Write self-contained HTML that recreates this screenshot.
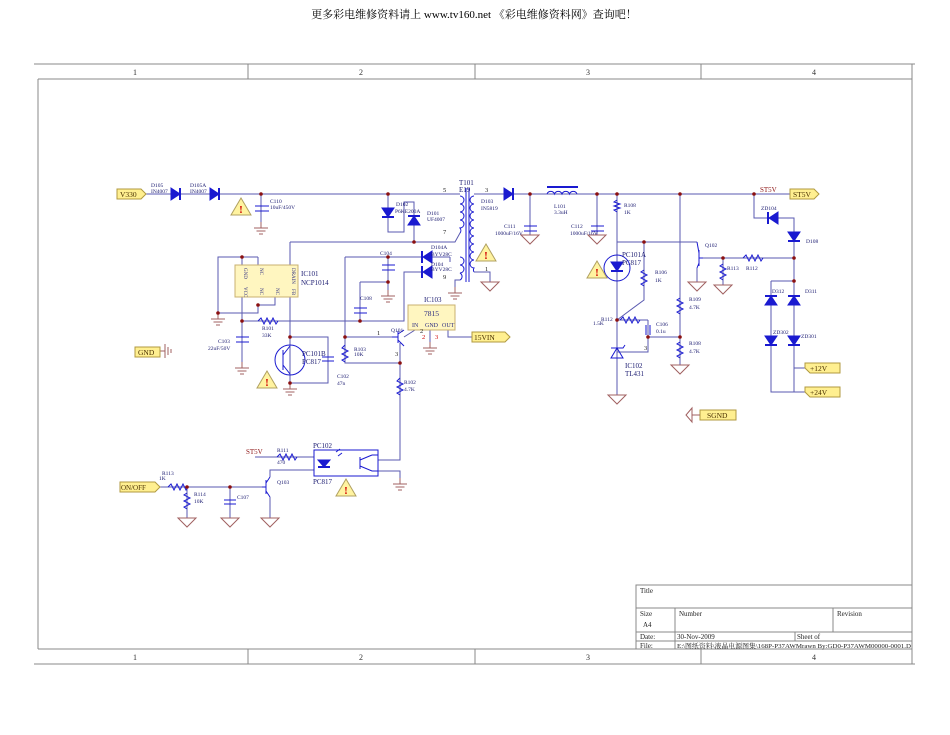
<!DOCTYPE html>
<html><head><meta charset="utf-8"><style>
html,body{margin:0;padding:0;background:#fff;width:950px;height:735px;overflow:hidden}
svg{display:block}
text{font-family:"Liberation Serif","Noto Serif CJK SC",serif}
</style></head><body>
<svg width="950" height="735" viewBox="0 0 950 735" xmlns="http://www.w3.org/2000/svg">
<defs>
<g id="gnd"><line x1="0" y1="0" x2="0" y2="6" stroke="#a06060"/><line x1="-7" y1="6" x2="7" y2="6" stroke="#a06060"/><line x1="-4.5" y1="9" x2="4.5" y2="9" stroke="#a06060"/><line x1="-2" y1="12" x2="2" y2="12" stroke="#a06060"/></g>
<g id="sg"><polygon points="-9,0 9,0 0,9" fill="none" stroke="#a06060"/></g>
<g id="warn"><polygon points="0,-9 10,8 -10,8" fill="#fff3a0" stroke="#b0a060"/><text x="0" y="6" font-size="11" fill="#d00000" text-anchor="middle" font-weight="bold">!</text></g>
</defs>
<text x="474" y="18" font-size="11" text-anchor="middle" fill="#000">更多彩电维修资料请上 www.tv160.net 《彩电维修资料网》查询吧！</text>
<!-- frame -->
<g stroke="#888" fill="none" stroke-width="1">
<line x1="34" y1="64" x2="915" y2="64"/><line x1="38" y1="79" x2="912" y2="79"/>
<line x1="38" y1="79" x2="38" y2="649"/><line x1="912" y1="64" x2="912" y2="664"/>
<line x1="38" y1="649" x2="912" y2="649"/><line x1="34" y1="664" x2="915" y2="664"/>
<line x1="248" y1="64" x2="248" y2="79"/><line x1="475" y1="64" x2="475" y2="79"/><line x1="701" y1="64" x2="701" y2="79"/>
<line x1="248" y1="649" x2="248" y2="664"/><line x1="475" y1="649" x2="475" y2="664"/><line x1="701" y1="649" x2="701" y2="664"/>
<rect x="636" y="585" width="276" height="64"/>
<line x1="636" y1="608" x2="912" y2="608"/><line x1="636" y1="632" x2="912" y2="632"/><line x1="636" y1="641" x2="912" y2="641"/>
<line x1="675" y1="608" x2="675" y2="649"/><line x1="833" y1="608" x2="833" y2="632"/><line x1="795" y1="632" x2="795" y2="641"/>
</g>
<g font-size="8" fill="#333" text-anchor="middle">
<text x="135" y="75">1</text><text x="361" y="75">2</text><text x="588" y="75">3</text><text x="814" y="75">4</text>
<text x="135" y="660">1</text><text x="361" y="660">2</text><text x="588" y="660">3</text><text x="814" y="660">4</text>
</g>
<g font-size="7" fill="#222">
<text x="640" y="593">Title</text><text x="640" y="616">Size</text><text x="643" y="627">A4</text><text x="679" y="616">Number</text><text x="837" y="616">Revision</text>
<text x="640" y="639">Date:</text><text x="677" y="639">30-Nov-2009</text><text x="797" y="639">Sheet    of</text>
<text x="640" y="648">File:</text><text x="677" y="648" font-size="6.5" textLength="234" lengthAdjust="spacingAndGlyphs">E:\图纸资料\液晶电源图集\168P-P37AWMrawn By:GD0-P37AWM00000-0001.D</text>
</g>
<!-- wires -->
<g stroke="#5a5ab0" fill="none" stroke-width="1">
<path d="M145 194 H460"/><path d="M474 194 H790"/>
<path d="M261 194 V222"/>
<path d="M388 194 V232 H404 V202 H414 V242"/>
<path d="M290 242 H455 L460 233"/>
<path d="M290 242 V266"/>
<path d="M242 266 V257 H218 V313 H258 V305 H275 V297"/><path d="M258 257 V266"/><path d="M242 257 H258"/>
<path d="M242 297 V362"/><path d="M242 321 H404 V272 H432"/>
<path d="M290 297 V383"/><path d="M290 337 H328 V383 H290"/>
<path d="M345 257 H432"/><path d="M345 257 V363 H400"/><path d="M345 337 H392"/>
<path d="M432 257 L450 257 M450 262 V257"/>
<path d="M388 257 V290"/><path d="M360 282 H388"/><path d="M360 282 V321"/>
<path d="M404 337 L415 330"/><path d="M400 343 V460 H378"/><path d="M378 471 H400 V478"/>
<path d="M448 330 V337 H472"/><path d="M430 330 V342"/>
<path d="M474 272 H490 V282"/><path d="M460 280 H455 V287"/>
<path d="M530 194 V235"/><path d="M597 194 V235"/>
<path d="M617 194 V395"/><path d="M617 242 H697"/><path d="M644 242 V300 L617 320"/>
<path d="M617 320 H648"/><path d="M648 320 V337 H680"/><path d="M617 352 H648 V337"/>
<path d="M680 194 V365"/>
<path d="M697 268 V282"/><path d="M703 258 H794"/><path d="M723 258 V285"/>
<path d="M754 194 V218 H794 V392"/><path d="M771 281 H794"/><path d="M771 281 V392 H805"/><path d="M794 368 H805"/>
<path d="M160 487 H262"/><path d="M187 487 V518"/><path d="M230 487 V518"/><path d="M270 497 V518"/><path d="M270 477 V470 H314"/>
<path d="M255 457 H314"/>
</g>
<g stroke="#a06060" fill="none"><path d="M165 344 V358 M168 347 V355 M171 349 V353 M160 351 H165"/></g>
<!-- components -->
<g fill="#1a1ad0" stroke="#1a1ad0">
<polygon points="171,188 171,200 180,194"/><line x1="180" y1="188" x2="180" y2="200" stroke-width="2"/>
<polygon points="210,188 210,200 219,194"/><line x1="219" y1="188" x2="219" y2="200" stroke-width="2"/>
<polygon points="504,188 504,200 513,194"/><line x1="513" y1="188" x2="513" y2="200" stroke-width="2"/>
<polygon points="382,208 394,208 388,217"/><line x1="382" y1="217" x2="394" y2="217" stroke-width="2"/>
<polygon points="408,225 420,225 414,216"/><line x1="408" y1="216" x2="420" y2="216" stroke-width="2"/>
<polygon points="432,251 432,263 423,257"/><line x1="422" y1="251" x2="422" y2="263" stroke-width="2"/>
<polygon points="432,266 432,278 423,272"/><line x1="422" y1="266" x2="422" y2="278" stroke-width="2"/>
<polygon points="778,212 778,224 769,218"/><line x1="768" y1="212" x2="768" y2="224" stroke-width="2"/>
<polygon points="788,232 800,232 794,241"/><line x1="788" y1="241" x2="800" y2="241" stroke-width="2"/>
<polygon points="765,305 777,305 771,296"/><line x1="765" y1="296" x2="777" y2="296" stroke-width="2"/>
<polygon points="788,305 800,305 794,296"/><line x1="788" y1="296" x2="800" y2="296" stroke-width="2"/>
<polygon points="765,336 777,336 771,345"/><line x1="765" y1="345" x2="777" y2="345" stroke-width="2"/>
<polygon points="788,336 800,336 794,345"/><line x1="788" y1="345" x2="800" y2="345" stroke-width="2"/>
<polygon points="611,262 623,262 617,271"/><line x1="611" y1="271" x2="623" y2="271" stroke-width="2"/>
<polygon points="611,358 623,358 617,348" fill="none"/><path d="M611 348 H623 L625 345" fill="none"/>
<polygon points="318,460 330,460 324,467"/><line x1="318" y1="467" x2="330" y2="467" stroke-width="2"/>
</g>
<g stroke="#1a1ad0" fill="none" stroke-width="1">
<path d="M255 206 H269 M255 211 H269"/><path d="M524 226 H537 M524 231 H537"/><path d="M591 226 H604 M591 231 H604"/>
<path d="M236 337 H249 M236 342 H249"/><path d="M382 265 H395 M382 270 H395"/><path d="M354 308 H367 M354 313 H367"/>
<path d="M322 357 H334 M322 361 H334"/><path d="M646 325 V335 M650 325 V335"/><path d="M224 500 H236 M224 504 H236"/>
<path d="M258 321 l3 -3 l3 6 l3 -6 l3 6 l3 -6 l3 6 l2 -3"/>
<path d="M345 345 l-3 3 l6 3 l-6 3 l6 3 l-6 3 l3 2"/>
<path d="M400 378 l-3 3 l6 3 l-6 3 l6 3 l-6 3 l3 2"/>
<path d="M617 200 l-3 2 l6 2 l-6 2 l6 2 l-6 2 l3 2"/>
<path d="M644 270 l-3 2 l6 3 l-6 3 l6 3 l-6 3 l3 2"/>
<path d="M680 298 l-3 2 l6 3 l-6 3 l6 3 l-6 3 l3 2"/>
<path d="M680 342 l-3 2 l6 3 l-6 3 l6 3 l-6 3 l3 2"/>
<path d="M723 264 l-3 2 l6 3 l-6 3 l6 3 l-6 3 l3 2"/>
<path d="M743 258 l3 -3 l3 6 l3 -6 l3 6 l3 -6 l3 6 l2 -3"/>
<path d="M620 320 l3 -3 l3 6 l3 -6 l3 6 l3 -6 l3 6 l2 -3"/>
<path d="M277 457 l3 -3 l3 6 l3 -6 l3 6 l3 -6 l3 6 l2 -3"/>
<path d="M168 487 l3 -3 l3 6 l3 -6 l3 6 l3 -6 l3 6 l2 -3"/>
<path d="M187 493 l-3 2 l6 3 l-6 3 l6 3 l-6 3 l3 2"/>
<path d="M547 194 a4 4 0 0 1 7.5 0 a4 4 0 0 1 7.5 0 a4 4 0 0 1 7.5 0 a4 4 0 0 1 7.5 0"/><line x1="547" y1="187" x2="578" y2="187" stroke-width="2"/>
<path d="M460 196 a4 4 0 0 1 0 8 a4 4 0 0 1 0 8 a4 4 0 0 1 0 8 a4 4 0 0 1 0 8 a4 4 0 0 1 0 5"/>
<path d="M460 257 a4 4 0 0 1 0 8 a4 4 0 0 1 0 8 a4 4 0 0 1 0 7"/>
<path d="M474 196 a4 4 0 0 0 0 8 a4 4 0 0 0 0 8 a4 4 0 0 0 0 8 a4 4 0 0 0 0 8 a4 4 0 0 0 0 8 a4 4 0 0 0 0 8 a4 4 0 0 0 0 8 a4 4 0 0 0 0 8 a4 4 0 0 0 0 8 a4 4 0 0 0 0 4"/>
<line x1="466" y1="188" x2="466" y2="282"/><line x1="469" y1="188" x2="469" y2="282"/>
<circle cx="290" cy="360" r="15"/><path d="M283 350 V370 M283 355 L290 346 M283 365 L290 374"/>
<path d="M392 337 H398 M398 331 V343 M398 334 L404 330 M398 340 L404 346"/>
<path d="M703 258 H699 M699 250 V266 M699 253 L697 242 M699 263 L697 268"/>
<path d="M262 487 H266 M266 480 V494 M266 483 L270 477 M266 491 L270 497"/>
<circle cx="617" cy="268" r="13"/>
<rect x="314" y="450" width="64" height="26"/><path d="M336 452 l4 -3 M338 456 l4 -3"/>
<path d="M360 457 V469 M360 460 L372 455 M360 466 L372 471 H378 M372 455 H378"/>
</g>
<rect x="235" y="265" width="63" height="32" fill="#fff6c0" stroke="#c8b070"/>
<rect x="408" y="305" width="47" height="25" fill="#fff6c0" stroke="#c8b070"/>
<g font-size="5" fill="#2a2a80">
<text transform="translate(244,268) rotate(90)">GND</text><text transform="translate(260,268) rotate(90)">NC</text><text transform="translate(292,268) rotate(90)">DRAIN</text>
<text transform="translate(244,287) rotate(90)">VCC</text><text transform="translate(260,288) rotate(90)">NC</text><text transform="translate(276,288) rotate(90)">NC</text><text transform="translate(292,289) rotate(90)">FB</text>
</g>
<g font-size="6" fill="#2a2a80">
<text x="412" y="327">IN</text><text x="425" y="327">GND</text><text x="442" y="327">OUT</text>
</g>
<text x="424" y="316" font-size="7.5" fill="#2a2a80">7815</text>
<g stroke="#b09a40" fill="#ffef90">
<polygon points="117,189 141,189 146,194 141,199 117,199"/>
<polygon points="790,189 814,189 819,194 814,199 790,199"/>
<polygon points="472,332 505,332 510,337 505,342 472,342"/>
<polygon points="135,347 160,347 160,357 135,357"/>
<polygon points="700,410 736,410 736,420 700,420"/>
<polygon points="805,363 840,363 840,373 810,373 805,368"/>
<polygon points="805,387 840,387 840,397 810,397 805,392"/>
<polygon points="120,482 155,482 160,487 155,492 120,492"/>
</g>
<path d="M700 415 H692 M692 408 L686 415 L692 422 Z" stroke="#a06060" fill="none"/>
<g font-size="7.5" fill="#4a3000">
<text x="120" y="197">V330</text><text x="793" y="197">ST5V</text><text x="474" y="340">15VIN</text>
<text x="138" y="355">GND</text><text x="707" y="418">SGND</text><text x="810" y="371">+12V</text><text x="810" y="395">+24V</text>
<text x="121" y="490" font-size="7">ON/OFF</text>
</g>
<g font-size="7" fill="#8b1010"><text x="760" y="192">ST5V</text><text x="246" y="454">ST5V</text></g>
<use href="#gnd" x="261" y="222"/><use href="#gnd" x="218" y="313"/><use href="#gnd" x="242" y="362"/><use href="#gnd" x="290" y="383"/>
<use href="#gnd" x="388" y="290"/><use href="#gnd" x="455" y="287"/><use href="#gnd" x="430" y="342"/><use href="#gnd" x="400" y="478"/>
<use href="#sg" x="490" y="282"/><use href="#sg" x="530" y="235"/><use href="#sg" x="597" y="235"/><use href="#sg" x="617" y="395"/>
<use href="#sg" x="680" y="365"/><use href="#sg" x="697" y="282"/><use href="#sg" x="723" y="285"/>
<use href="#sg" x="187" y="518"/><use href="#sg" x="230" y="518"/><use href="#sg" x="270" y="518"/>
<use href="#warn" x="241" y="207"/><use href="#warn" x="486" y="253"/><use href="#warn" x="267" y="380"/><use href="#warn" x="346" y="488"/><use href="#warn" x="597" y="270"/>
<g fill="#8b1010">
<circle cx="261" cy="194" r="1.8"/><circle cx="388" cy="194" r="1.8"/><circle cx="414" cy="242" r="1.8"/><circle cx="242" cy="257" r="1.8"/>
<circle cx="218" cy="313" r="1.8"/><circle cx="258" cy="305" r="1.8"/><circle cx="242" cy="321" r="1.8"/><circle cx="290" cy="337" r="1.8"/><circle cx="290" cy="383" r="1.8"/>
<circle cx="388" cy="257" r="1.8"/><circle cx="388" cy="282" r="1.8"/><circle cx="360" cy="321" r="1.8"/><circle cx="345" cy="337" r="1.8"/><circle cx="400" cy="363" r="1.8"/>
<circle cx="530" cy="194" r="1.8"/><circle cx="597" cy="194" r="1.8"/><circle cx="617" cy="194" r="1.8"/><circle cx="680" cy="194" r="1.8"/><circle cx="754" cy="194" r="1.8"/>
<circle cx="644" cy="242" r="1.8"/><circle cx="617" cy="320" r="1.8"/><circle cx="648" cy="337" r="1.8"/><circle cx="680" cy="337" r="1.8"/>
<circle cx="723" cy="258" r="1.8"/><circle cx="794" cy="258" r="1.8"/><circle cx="794" cy="281" r="1.8"/>
<circle cx="187" cy="487" r="1.8"/><circle cx="230" cy="487" r="1.8"/>
</g>
<g font-size="5.5" fill="#1a1a70">
<text x="151" y="187">D105</text><text x="151" y="193">IN4007</text><text x="190" y="187">D105A</text><text x="190" y="193">IN4007</text>
<text x="270" y="203">C110</text><text x="270" y="209">10uF/450V</text>
<text x="396" y="206">D102</text><text x="395" y="213">P6KE200A</text><text x="427" y="215">D101</text><text x="427" y="221">UF4007</text>
<text x="431" y="249">D104A</text><text x="431" y="256">BYV28C</text><text x="431" y="266">D104</text><text x="431" y="271">BYV28C</text>
<text x="481" y="203">D103</text><text x="481" y="210">IN5819</text>
<text x="504" y="228">C111</text><text x="495" y="235">1000uF/16V</text><text x="571" y="228">C112</text><text x="570" y="235">1000uF/16V</text>
<text x="554" y="208">L101</text><text x="554" y="214">3.3uH</text><text x="624" y="207">R108</text><text x="624" y="214">1K</text>
<text x="705" y="247">Q102</text><text x="655" y="274">R106</text><text x="655" y="282">1K</text><text x="727" y="270">R113</text><text x="746" y="270">R112</text>
<text x="689" y="301">R109</text><text x="689" y="309">4.7K</text><text x="689" y="345">R108</text><text x="689" y="353">4.7K</text>
<text x="601" y="321">R112</text><text x="593" y="325">1.5K</text><text x="656" y="326">C106</text><text x="656" y="333">0.1u</text>
<text x="761" y="210">ZD104</text><text x="806" y="243">D108</text><text x="772" y="293">D312</text><text x="805" y="293">D311</text><text x="773" y="334">ZD302</text><text x="801" y="338">ZD301</text>
<text x="380" y="255">C104</text><text x="360" y="300">C108</text><text x="262" y="330">R101</text><text x="262" y="337">33K</text>
<text x="218" y="343">C103</text><text x="208" y="350">22uF/50V</text><text x="337" y="378">C102</text><text x="337" y="385">47n</text>
<text x="354" y="351">R103</text><text x="354" y="356">10K</text><text x="404" y="384">R102</text><text x="404" y="391">4.7K</text>
<text x="391" y="332">Q101</text><text x="162" y="475">R113</text><text x="159" y="480">1K</text><text x="194" y="496">R114</text><text x="194" y="503">10K</text>
<text x="237" y="499">C107</text><text x="277" y="484">Q103</text><text x="277" y="452">R111</text><text x="277" y="464">470</text>
</g>
<g font-size="7" fill="#1a1a70">
<text x="301" y="276">IC101</text><text x="301" y="285">NCP1014</text><text x="424" y="302">IC103</text>
<text x="302" y="356">PC101B</text><text x="302" y="364">PC817</text><text x="622" y="257">PC101A</text><text x="622" y="265">PC817</text>
<text x="625" y="368">IC102</text><text x="625" y="376">TL431</text><text x="313" y="448">PC102</text><text x="313" y="484">PC817</text>
<text x="459" y="185">T101</text><text x="459" y="192">E19</text>
</g>
<g font-size="6.5" fill="#222"><text x="443" y="192">5</text><text x="485" y="192">3</text><text x="443" y="234">7</text><text x="485" y="271">1</text><text x="443" y="279">9</text>
<text x="377" y="335">1</text><text x="420" y="333">2</text><text x="395" y="356">3</text><text x="644" y="350">3</text></g>
<g font-size="6.5" fill="#d00000"><text x="422" y="339">2</text><text x="435" y="339">3</text></g>
</svg>
</body></html>
